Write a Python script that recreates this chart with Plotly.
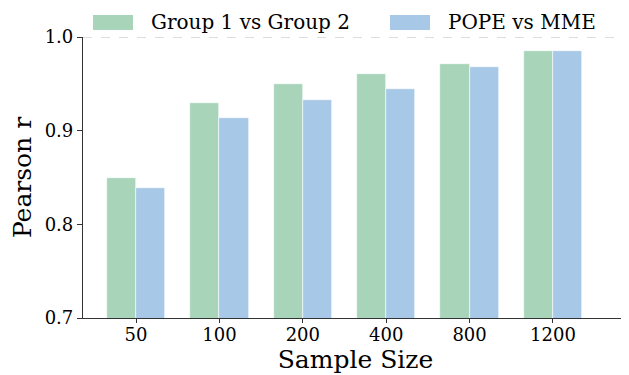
import plotly.graph_objects as go

categories = ["50", "100", "200", "400", "800", "1200"]
group_vals = [0.850, 0.930, 0.950, 0.961, 0.971, 0.985]
pope_vals = [0.839, 0.914, 0.933, 0.944, 0.968, 0.985]
series_names = ["Group 1 vs Group 2", "POPE vs MME"]
colors = ["#a8d5ba", "#a8c8e7"]
y_ticks = [0.7, 0.8, 0.9, 1.0]

FONT = "DejaVu Serif"
OFF = 8  # default page body margin
W, H = 629 - OFF, 375 - OFF
# plot area in viewport pixels: x 83..628, y 37..318
L, R, T, B = 83 - OFF, 1, 37 - OFF, 375 - 318

xs = list(range(len(categories)))
bw = 0.35
fig = go.Figure()
for i, (name, vals) in enumerate(zip(series_names, [group_vals, pope_vals])):
    offs = -bw if i == 0 else 0.0
    fig.add_trace(go.Bar(
        x=xs, y=vals, name=name, width=bw, offset=offs,
        marker=dict(color=colors[i], line=dict(color="white", width=0.6)),
        showlegend=False,
    ))

# dashed reference line at 1.0
fig.add_shape(type="line", xref="paper", x0=0, x1=1, yref="y", y0=1.0, y1=1.0,
              line=dict(color="#bbbbbb", width=1, dash="dash"), layer="below")

# legend drawn manually (positions in viewport pixels)
pw = 628 - 83
ph = 318 - 37
def px_x(p):
    return (p - 83) / pw
def px_y(p):
    return (318 - p) / ph

sw_x = [(93, 133), (390, 430)]
tx = [149, 446]
for i in range(2):
    fig.add_shape(type="rect", xref="paper", yref="paper",
                  x0=px_x(sw_x[i][0]), x1=px_x(sw_x[i][1]),
                  y0=px_y(30), y1=px_y(15),
                  fillcolor=colors[i], line=dict(width=0))
    fig.add_annotation(xref="paper", yref="paper", x=px_x(tx[i]), y=px_y(22),
                       xanchor="left", yanchor="middle", showarrow=False,
                       text=series_names[i], font=dict(family=FONT, size=20, color="black"))

fig.update_layout(
    width=W, height=H,
    margin=dict(l=L, r=R, t=T, b=B, autoexpand=False),
    paper_bgcolor="white", plot_bgcolor="white",
    font=dict(family=FONT, color="black"),
    bargap=0, barmode="overlay",
    showlegend=False,
)
fig.update_xaxes(
    automargin=False,
    tickmode="array", tickvals=xs, ticktext=categories,
    range=[-0.636, 5.9],
    showline=True, linecolor="#333333", linewidth=1.2,
    ticks="outside", ticklen=4, tickcolor="#333333",
    ticklabelstandoff=-4,
    tickfont=dict(family=FONT, size=18),
    title=dict(text="Sample Size", font=dict(family=FONT, size=25), standoff=6),
    showgrid=False, zeroline=False,
)
fig.update_yaxes(
    automargin=False,
    range=[0.7, 1.0], tickmode="array", tickvals=y_ticks,
    ticktext=[f"{v:.1f}" for v in y_ticks],
    showline=True, linecolor="#333333", linewidth=1.2,
    ticks="outside", ticklen=5, tickcolor="#333333",
    tickfont=dict(family=FONT, size=18),
    title=dict(text="Pearson r", font=dict(family=FONT, size=25), standoff=8),
    showgrid=False, zeroline=False,
)

fig.write_html("out.html")
